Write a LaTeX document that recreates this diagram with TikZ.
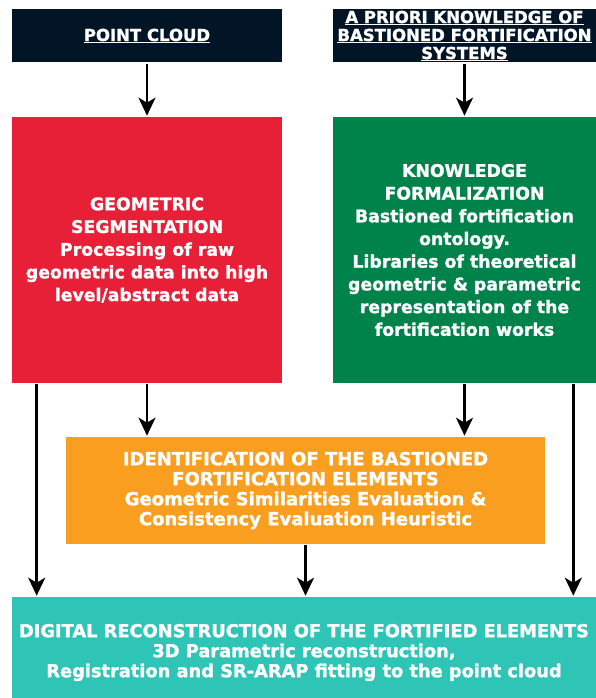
\documentclass[tikz,border=0pt]{standalone}
\usepackage{fontspec}
\setmainfont[BoldFeatures={FakeBold=1.5}]{DejaVu Sans}
\usetikzlibrary{arrows.meta,positioning}
\definecolor{nightblue}{HTML}{021526}
\definecolor{segred}{HTML}{E71F37}
\definecolor{knowgreen}{HTML}{00834A}
\definecolor{identorange}{HTML}{F99E1F}
\definecolor{reconteal}{HTML}{2EC4B6}
\tikzset{
    stage/.style={
           rectangle,
           inner sep=0pt,
           text=white,
           align=center,
           font=\bfseries\fontsize{17.3}{22.7}\selectfont,
           },
}

\begin{document}
\begin{tikzpicture}[
  x=1pt,y=-1pt,
  ->,>={Stealth[length=18pt,width=17pt,inset=5pt]},
  line width=2.6pt,
  input/.style={fill=nightblue,minimum height=53pt,font=\bfseries\fontsize{16.5}{18}\selectfont},
  tall/.style={minimum height=266pt},
  wide/.style={font=\bfseries\fontsize{18}{20}\selectfont}]
\useasboundingbox (0,0) rectangle (596,698);
\node[stage,input,minimum width=270pt](cloud) at (147,36){\underline{POINT CLOUD}};
\node[stage,input,minimum width=263pt](priori) at (464.5,36){\underline{A PRIORI KNOWLEDGE OF}\\\underline{BASTIONED FORTIFICATION}\\\underline{SYSTEMS}};
\node[stage,tall,fill=segred,minimum width=270pt](segment) at (147,250){GEOMETRIC\\SEGMENTATION\\Processing of raw\\geometric data into high\\level/abstract data};
\node[stage,tall,fill=knowgreen,minimum width=263pt](formal) at (464.5,250){KNOWLEDGE\\FORMALIZATION\\Bastioned fortification\\ontology.\\Libraries of theoretical\\geometric \& parametric\\representation of the\\fortification works};
\node[stage,wide,fill=identorange,minimum width=479pt,minimum height=107pt](ident) at (305.5,490.5){IDENTIFICATION OF THE BASTIONED\\FORTIFICATION ELEMENTS\\Geometric Similarities Evaluation \&\\Consistency Evaluation Heuristic};
\node[stage,wide,fill=reconteal,minimum width=584pt,minimum height=111pt,font=\bfseries\fontsize{17.8}{20}\selectfont](recon) at (304,652.5){DIGITAL RECONSTRUCTION OF THE FORTIFIED ELEMENTS\\3D Parametric reconstruction,\\Registration and SR-ARAP fitting to the point cloud};

\draw (cloud) -- (segment);
\draw (priori) -- (formal);
\draw ([xshift=26pt]segment.south west) -- ([xshift=26pt]segment.south west |- recon.north);
\draw (segment.south) -- (segment.south |- ident.north);
\draw (formal.south) -- (formal.south |- ident.north);
\draw ([xshift=-24pt]formal.south east) -- ([xshift=-24pt]formal.south east |- recon.north);
\draw (ident.south) -- (ident.south |- recon.north);
\end{tikzpicture}
\end{document}
